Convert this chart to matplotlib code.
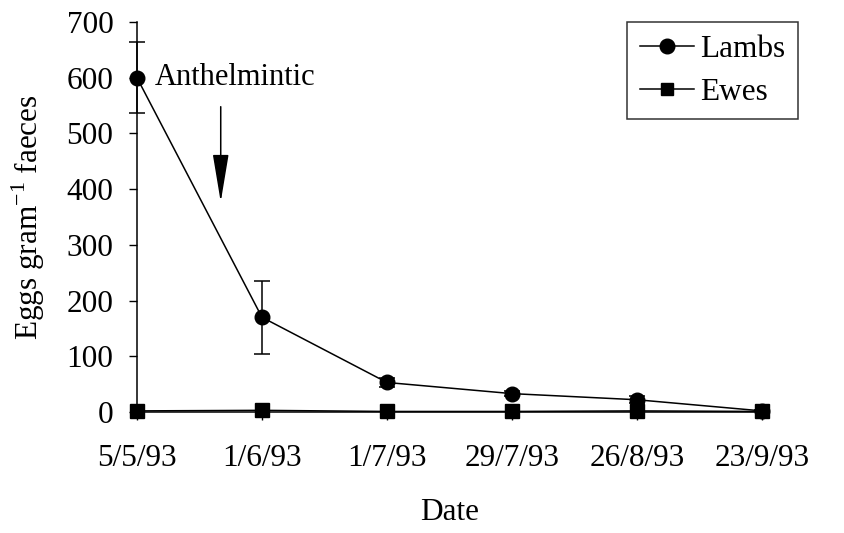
import matplotlib.pyplot as plt
from matplotlib.lines import Line2D

dates = ['5/5/93', '1/6/93', '1/7/93', '29/7/93', '26/8/93', '23/9/93']
lambs = [600, 170, 53, 33, 22, 2]
lambs_err = [64, 65, 8, 4, 6, 1]
ewes = [2, 3, 1, 1, 2, 1]

plt.rcParams['font.family'] = 'Liberation Serif'
plt.rcParams['font.size'] = 22.5
plt.rcParams['mathtext.fontset'] = 'custom'
plt.rcParams['mathtext.rm'] = 'Liberation Serif'

fig = plt.figure(figsize=(8.44, 5.33), dpi=100)
ax = fig.add_axes([0.1623, 0.227, 0.7405, 0.7317])

x = list(range(len(dates)))
ax.errorbar(x, lambs, yerr=lambs_err, color='black', lw=1.1, marker='o', ms=10.5,
            capsize=5.5, elinewidth=1.1, capthick=1.1, zorder=3, clip_on=False)
ax.plot(x, ewes, color='black', lw=1.1, marker='s', ms=10, zorder=3, clip_on=False)

ax.set_xlim(0, len(dates) - 1)
ax.set_ylim(0, 700)
ax.set_xticks(x)
ax.set_xticklabels(dates)
ax.set_yticks(range(0, 701, 100))
ax.tick_params(axis='both', direction='out', length=6, width=1, colors='black')
ax.tick_params(axis='x', pad=17)
ax.tick_params(axis='y', pad=11)
for s in ['top', 'right']:
    ax.spines[s].set_visible(False)
for s in ['left', 'bottom']:
    ax.spines[s].set_linewidth(1.1)

ax.set_xlabel('Date', labelpad=18)
ax.set_ylabel('Eggs gram$^{\\mathregular{-1}}$ faeces', labelpad=14)

ax.text(0.144, 600, 'Anthelmintic', va='center', ha='left', fontsize=22)
ax.annotate('', xy=(0.67, 377), xytext=(0.67, 548),
            arrowprops=dict(arrowstyle='-|>,head_length=3.0,head_width=0.5',
                            mutation_scale=10, shrinkA=0, shrinkB=0,
                            color='black', lw=1.1))

handles = [Line2D([], [], color='black', lw=1.1, marker='o', ms=10.5),
           Line2D([], [], color='black', lw=1.1, marker='s', ms=9)]
leg = ax.legend(handles, ['Lambs', 'Ewes'], loc='upper right',
                bbox_to_anchor=(1.058, 1.0), borderaxespad=0, frameon=True,
                fancybox=False, edgecolor='black', handlelength=1.75,
                handletextpad=0.2, borderpad=0.4, labelspacing=0.45)
leg.get_frame().set_linewidth(1.1)

fig.savefig('out.png', dpi=100)
